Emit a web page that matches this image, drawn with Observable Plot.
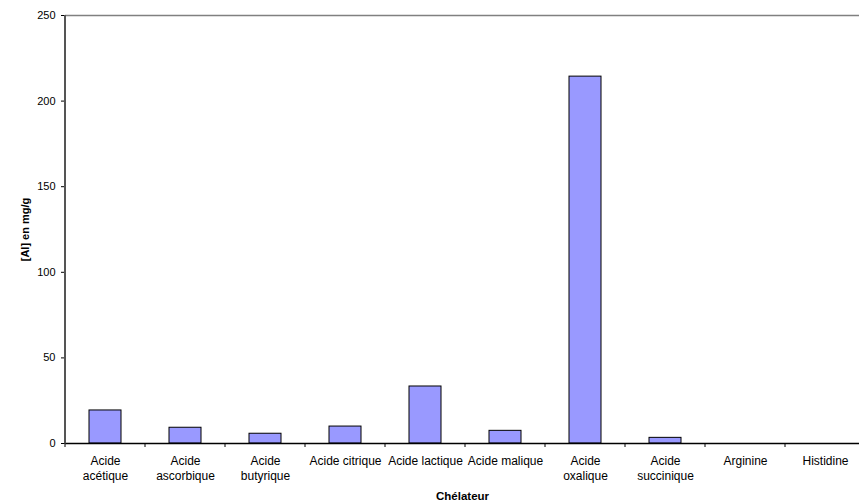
<!DOCTYPE html>
<html>
<head>
<meta charset="utf-8">
<script src="https://cdn.jsdelivr.net/npm/d3@7"></script>
<script src="https://cdn.jsdelivr.net/npm/@observablehq/plot@0.6"></script>
<style>
  html, body { margin: 0; padding: 0; background: #fff; }
  svg { display: block; }
</style>
</head>
<body>
<div id="chart"></div>
<script>
const categories = ["Acide acétique", "Acide ascorbique", "Acide butyrique", "Acide citrique", "Acide lactique", "Acide malique", "Acide oxalique", "Acide succinique", "Arginine", "Histidine"];
const tickLabels = ["Acide\nacétique", "Acide\nascorbique", "Acide\nbutyrique", "Acide citrique", "Acide lactique", "Acide malique", "Acide\noxalique", "Acide\nsuccinique", "Arginine", "Histidine"];
const values = [19.3, 9.2, 5.7, 9.9, 33.3, 7.4, 214.3, 3.3, 0, 0];
const yTicks = [0, 50, 100, 150, 200, 250];

const data = categories.map((c, i) => ({name: c, value: values[i]}));
const labelOf = new Map(categories.map((c, i) => [c, tickLabels[i]]));

const font = "Liberation Sans, Arial, sans-serif";

const chart = Plot.plot({
  width: 859,
  height: 504,
  marginLeft: 65,
  marginRight: 0,
  marginTop: 15,
  marginBottom: 61,
  style: {fontFamily: font, fontSize: "11px", color: "#000", background: "#fff"},
  x: {type: "band", domain: categories, range: [65, 865], padding: 0, label: null},
  y: {domain: [0, 250], label: null},
  marks: [
    Plot.ruleY([250], {stroke: "#808080", strokeWidth: 1.5}),
    Plot.barY(data, {x: "name", y: "value", fill: "#9999ff", stroke: "#000", strokeWidth: 1, insetLeft: 24, insetRight: 24}),
    Plot.ruleY([0], {stroke: "#000", strokeWidth: 1.5}),
    Plot.axisY({ticks: yTicks, tickSize: 4, tickPadding: 6, stroke: "#000", fontSize: 11, label: null}),
    Plot.axisX({tickSize: 0, tickPadding: 11, lineHeight: 1.25, fontSize: 12, tickFormat: d => labelOf.get(d), label: null}),
    // category boundary ticks and left axis line, drawn from the x scale
    (index, scales, values_, dims) => {
      const g = d3.create("svg:g");
      const y0 = scales.y(0);
      const yTop = scales.y(250);
      g.append("line")
        .attr("x1", scales.x(categories[0])).attr("x2", scales.x(categories[0]))
        .attr("y1", yTop).attr("y2", y0 + 1)
        .attr("stroke", "#555").attr("stroke-width", 2);
      for (const c of categories) {
        const xx = scales.x(c);
        g.append("line")
          .attr("x1", xx).attr("x2", xx)
          .attr("y1", y0).attr("y2", y0 + 4)
          .attr("stroke", "#000").attr("stroke-width", 1);
      }
      return g.node();
    },
    Plot.text(["[Al] en mg/g"], {frameAnchor: "left", textAnchor: "middle", rotate: -90, dx: -40, fontWeight: "bold", fontSize: 11}),
    Plot.text(["Chélateur"], {frameAnchor: "bottom", dy: 56, fontWeight: "bold", fontSize: 11.5})
  ]
});

document.getElementById("chart").appendChild(chart);
</script>
</body>
</html>
